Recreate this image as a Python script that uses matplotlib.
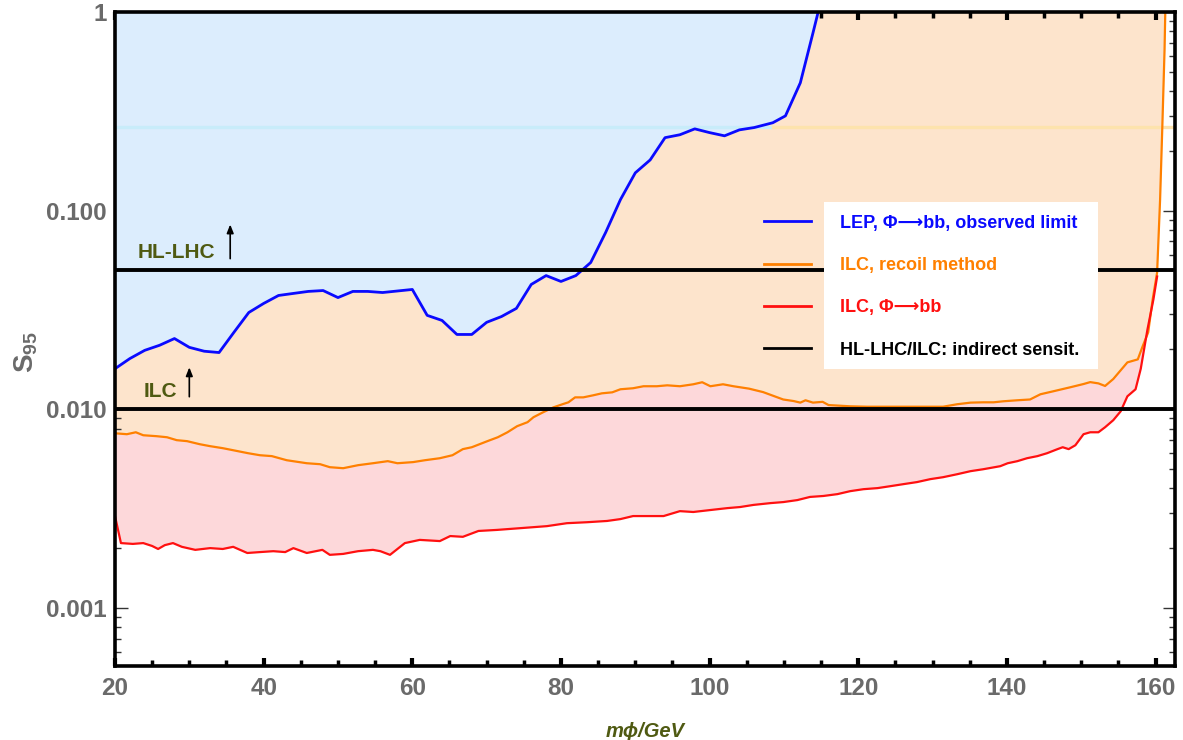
import numpy as np
import matplotlib
matplotlib.use("Agg")
import matplotlib.pyplot as plt
from matplotlib.lines import Line2D
from matplotlib.patches import Rectangle
from matplotlib.ticker import MultipleLocator, LogLocator, NullFormatter

plt.rcParams['font.family'] = ['Liberation Sans', 'DejaVu Sans']
plt.rcParams['font.weight'] = 'bold'
plt.rcParams['mathtext.fontset'] = 'custom'
plt.rcParams['mathtext.bf'] = 'Liberation Sans:bold'
plt.rcParams['mathtext.rm'] = 'Liberation Sans'

# LEP observed limit (phi -> bb)
lep_x = [20, 22, 24, 26, 28, 30, 32, 34, 36, 38, 40, 42, 44, 46, 48, 50, 52, 54, 56, 60,
         62, 64, 66, 68, 70, 72, 74, 76, 78, 80, 82, 84, 86, 88, 90, 92, 94, 96, 98, 100,
         102, 104, 106, 108.5, 110.2, 112.2, 113.9, 114.6]
lep_y = [0.0160, 0.0180, 0.0198, 0.0210, 0.0227, 0.0205, 0.0196, 0.0193, 0.0244, 0.0307,
         0.0341, 0.0374, 0.0383, 0.0392, 0.0396, 0.0365, 0.0392, 0.0392, 0.0387, 0.0401,
         0.0297, 0.0280, 0.0238, 0.0238, 0.0274, 0.0293, 0.0322, 0.0425, 0.0471, 0.0440,
         0.0471, 0.0548, 0.0775, 0.1136, 0.155, 0.180, 0.233, 0.241, 0.258, 0.247,
         0.238, 0.255, 0.262, 0.277, 0.300, 0.440, 0.784, 1.0]

# ILC recoil method
recoil_x = [20, 21.6, 22.8, 23.8, 25.6, 27, 28.3, 29.7, 31.4, 32.8, 34.5, 35.9, 37.9, 39.5,
            41.1, 43.1, 45.8, 47.6, 48.9, 50.7, 52.7, 54.7, 56.7, 58, 60.1, 61.7, 63.7,
            65.4, 66.8, 68, 70.1, 71.5, 72.8, 74.1, 75.5, 76.3, 77.6, 79, 80.2, 81, 81.9,
            83, 84.3, 85.5, 86.9, 88, 89.7, 91.1, 92.9, 94.3, 96, 97.8, 99, 100.1, 101.8,
            103.2, 105.3, 107.2, 109.9, 111.3, 112.2, 112.9, 113.9, 115.2, 116, 118.9,
            121.2, 124.3, 127.9, 131.4, 133.3, 135.1, 136.8, 138.2, 139.5, 141.4, 143.1,
            144.5, 146.2, 148.5, 150.3, 151.2, 152.3, 153.2, 154.3, 156.2, 157.6, 158.2,
            159, 159.6, 160.2, 160.6, 160.9, 161.2, 161.3]
recoil_y = [0.00757, 0.00749, 0.00766, 0.00740, 0.00732, 0.00723, 0.00699, 0.00691, 0.00667,
            0.00652, 0.00637, 0.00622, 0.00601, 0.00587, 0.00581, 0.00554, 0.00535, 0.00529,
            0.00511, 0.00505, 0.00523, 0.00535, 0.00548, 0.00535, 0.00542, 0.00554, 0.00567,
            0.00587, 0.00630, 0.00644, 0.00691, 0.00723, 0.00766, 0.00822, 0.00861, 0.00912,
            0.00966, 0.01023, 0.01060, 0.01084, 0.01148, 0.01148, 0.01175, 0.01203, 0.01217,
            0.01261, 0.01276, 0.01306, 0.01306, 0.01320, 0.01306, 0.01336, 0.01368, 0.01306,
            0.01336, 0.01306, 0.01270, 0.01220, 0.01120, 0.01100, 0.01080, 0.01110, 0.01080,
            0.01090, 0.01050, 0.01035, 0.01030, 0.01030, 0.01030, 0.01030, 0.01060, 0.01080,
            0.01084, 0.01084, 0.01097, 0.01110, 0.01120, 0.01190, 0.01231, 0.01290, 0.01340,
            0.01370, 0.01350, 0.01310, 0.01420, 0.01722, 0.01783, 0.0205, 0.0244, 0.0357,
            0.0488, 0.1136, 0.264, 0.644, 1.0]

# ILC phi -> bb
bb_x = [20, 20.8, 22.4, 23.8, 25, 25.8, 26.7, 27.8, 29, 30.8, 32.8, 34.5, 35.9, 37.8, 39.5,
        41.3, 42.9, 44, 45.8, 47.9, 48.9, 50.7, 52.7, 54.7, 55.7, 57, 59, 61, 63.7, 65.1,
        66.8, 68.9, 71.4, 74.5, 78.1, 80.8, 83.5, 86.2, 88, 89.7, 93.8, 96, 97.8, 100.1,
        102.4, 104.1, 105.9, 108.2, 109.9, 111.8, 113.5, 115.3, 117.2, 118.9, 120.7, 122.6,
        124.3, 126.1, 127.9, 129.7, 131.4, 133.3, 135.1, 136.8, 139.1, 140.1, 141.4, 142.7,
        144.1, 145.4, 146.8, 147.5, 148.3, 149.2, 150.3, 151.2, 152.3, 153.2, 154.3, 155.3,
        156.2, 157.3, 158, 158.9, 159.7, 160.2]
bb_y = [0.00290, 0.00212, 0.00210, 0.00212, 0.00205, 0.00198, 0.00207, 0.00212, 0.00203,
        0.00196, 0.00200, 0.00198, 0.00203, 0.00189, 0.00191, 0.00193, 0.00191, 0.00200,
        0.00189, 0.00196, 0.00185, 0.00187, 0.00193, 0.00196, 0.00193, 0.00185, 0.00212,
        0.00220, 0.00217, 0.00230, 0.00228, 0.00244, 0.00247, 0.00252, 0.00258, 0.00267,
        0.00270, 0.00274, 0.00280, 0.00290, 0.00290, 0.00307, 0.00304, 0.00311, 0.00318,
        0.00322, 0.00330, 0.00337, 0.00341, 0.00349, 0.00362, 0.00366, 0.00374, 0.00387,
        0.00396, 0.00401, 0.00410, 0.00420, 0.00430, 0.00445, 0.00455, 0.00471, 0.00488,
        0.00499, 0.00517, 0.00535, 0.00548, 0.00567, 0.00581, 0.00601, 0.00630, 0.00644,
        0.00630, 0.00659, 0.00749, 0.00766, 0.00766, 0.00812, 0.00881, 0.00977, 0.01162,
        0.01261, 0.0160, 0.0252, 0.0357, 0.0466]

# indirect sensitivities
hl_lhc_level = 0.05
ilc_level = 0.01
faint_level = 0.264

labels = ["LEP, \u03a6\u27f6bb, observed limit", "ILC, recoil method",
          "ILC, \u03a6\u27f6bb", "HL-LHC/ILC: indirect sensit."]

blue = "#0a0aff"
orange = "#ff8000"
red = "#ff1010"
olive = "#4f5a12"
gray = "#6a6a6a"

fig = plt.figure(figsize=(11.83, 7.40), dpi=100)
ax = fig.add_axes([0.0972, 0.1, 0.8960, 0.8838])
ax.set_yscale("log")
ax.set_xlim(20, 162.6)
ax.set_ylim(0.00051, 1)

rx = np.array(recoil_x)
ry = np.array(recoil_y)
bx = np.array(bb_x)
by = np.array(bb_y)

# shaded regions
ax.fill_between(rx, ry, 1, color="#fde4cc", lw=0, zorder=1)
ax.fill_between(lep_x, lep_y, 1, color="#dcedfd", lw=0, zorder=2)
keep = rx <= bx.max()
ax.fill(np.concatenate([bx, rx[keep][::-1]]), np.concatenate([by, ry[keep][::-1]]),
        color="#fdd8da", lw=0, zorder=2)

# faint horizontal line
split = np.array(lep_x)[np.argmax(np.array(lep_y) >= faint_level)]
ax.plot([20, split], [faint_level, faint_level], color="#c8ecfa", lw=2.4, zorder=3)
ax.plot([split, 162.6], [faint_level, faint_level], color="#fde3ad", lw=2.4, zorder=3)

ax.plot(lep_x, lep_y, color=blue, lw=2.0, zorder=5)
ax.plot(rx, ry, color=orange, lw=1.6, zorder=5)
ax.plot(bx, by, color=red, lw=1.6, zorder=5)
ax.axhline(hl_lhc_level, color="black", lw=2.8, zorder=6)
ax.axhline(ilc_level, color="black", lw=2.8, zorder=6)

# labels with arrows
ax.text(23.1, 0.0615, "HL-LHC", color=olive, fontsize=15, va="center", ha="left", zorder=7)
ax.annotate("", xy=(35.5, 0.088), xytext=(35.5, 0.0555),
            arrowprops=dict(arrowstyle="-|>,head_length=0.5,head_width=0.2", color="black", lw=1.2),
            zorder=7)
ax.text(23.8, 0.0123, "ILC", color=olive, fontsize=15, va="center", ha="left", zorder=7)
ax.annotate("", xy=(30.0, 0.0168), xytext=(30.0, 0.0112),
            arrowprops=dict(arrowstyle="-|>,head_length=0.5,head_width=0.2", color="black", lw=1.2),
            zorder=7)

# legend: white box behind the texts only
ax.add_patch(Rectangle((0.669, 0.454), 0.258, 0.255, transform=ax.transAxes,
                       facecolor="white", edgecolor="none", zorder=8))
handles = [Line2D([], [], color=c, lw=2) for c in [blue, orange, red, "black"]]
leg = ax.legend(handles, labels, loc="upper left", bbox_to_anchor=(0.612, 0.690),
                frameon=False, fontsize=13, handlelength=2.6, handletextpad=1.6,
                labelspacing=1.4, borderpad=0, borderaxespad=0)
leg.set_zorder(9)
for t, c in zip(leg.get_texts(), [blue, orange, red, "black"]):
    t.set_color(c)

# axes styling
for s in ax.spines.values():
    s.set_linewidth(2.6)
    s.set_zorder(10)
ax.set_xticks(range(20, 161, 20))
ax.xaxis.set_minor_locator(MultipleLocator(5))
ax.set_yticks([0.001, 0.01, 0.1, 1], ["0.001", "0.010", "0.100", "1"])
ax.yaxis.set_minor_locator(LogLocator(base=10, subs=np.arange(2, 10)))
ax.yaxis.set_minor_formatter(NullFormatter())
ax.tick_params(axis="x", which="major", direction="in", length=6, width=3, top=True,
               labelsize=17.5, labelcolor=gray, pad=8)
ax.tick_params(axis="x", which="minor", direction="in", length=4, width=2.5, top=True)
ax.tick_params(axis="y", which="major", direction="in", length=9, width=1, right=True,
               labelsize=17.5, labelcolor=gray, pad=6, color="#333333")
ax.tick_params(axis="y", which="minor", direction="in", length=4.5, width=1, right=True,
               color="#333333")

ax.set_xlabel("m\u03d5/GeV", color=olive, fontsize=14.5, fontstyle="italic", fontweight="bold")
ax.xaxis.set_label_coords(0.5, -0.085)
ax.set_ylabel(r"$\mathbf{S}_{\mathbf{95}}$", color=gray, fontsize=20)
ax.yaxis.set_label_coords(-0.071, 0.48)

fig.savefig("out.png", dpi=100)
